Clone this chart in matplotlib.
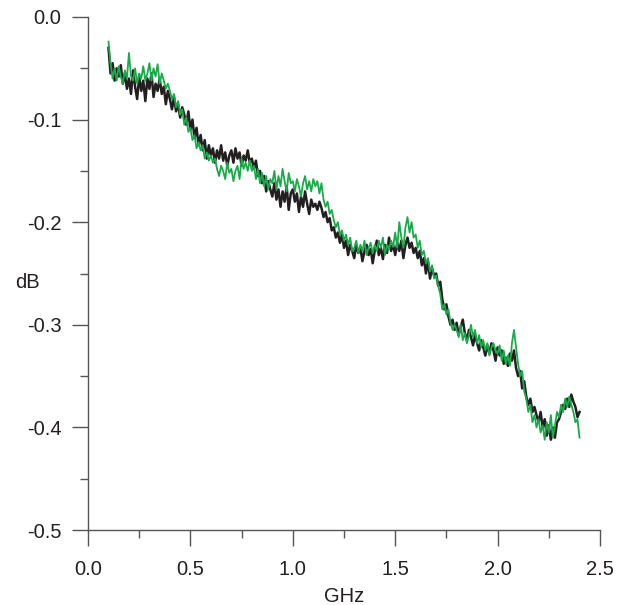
import numpy as np
import matplotlib
matplotlib.use("Agg")
import matplotlib.pyplot as plt
from matplotlib.ticker import MultipleLocator

plt.rcParams['font.family'] = ['Liberation Sans', 'DejaVu Sans']

# frequency grid (GHz)
freq = np.round(np.arange(0.10, 2.4001, 0.01), 2)

black_db = [
    -0.030, -0.055, -0.045, -0.062, -0.050, -0.058, -0.047, -0.065, -0.055, -0.070,
    -0.060, -0.075, -0.052, -0.068, -0.080, -0.058, -0.072, -0.062, -0.082, -0.060,
    -0.070, -0.055, -0.078, -0.065, -0.072, -0.060, -0.075, -0.068, -0.085, -0.072,
    -0.080, -0.090, -0.078, -0.092, -0.085, -0.098, -0.088, -0.095, -0.105, -0.092,
    -0.110, -0.100, -0.118, -0.108, -0.125, -0.115, -0.130, -0.120, -0.138, -0.125,
    -0.135, -0.128, -0.142, -0.130, -0.138, -0.125, -0.140, -0.132, -0.145, -0.135,
    -0.130, -0.142, -0.128, -0.138, -0.132, -0.145, -0.135, -0.140, -0.130, -0.142,
    -0.138, -0.148, -0.140, -0.155, -0.150, -0.162, -0.155, -0.170, -0.160, -0.168,
    -0.175, -0.162, -0.178, -0.168, -0.185, -0.170, -0.180, -0.165, -0.188, -0.172,
    -0.168, -0.180, -0.172, -0.190, -0.175, -0.185, -0.170, -0.182, -0.192, -0.178,
    -0.185, -0.182, -0.188, -0.180, -0.186, -0.195, -0.190, -0.200, -0.196, -0.208,
    -0.205, -0.215, -0.210, -0.220, -0.212, -0.225, -0.218, -0.232, -0.222, -0.228,
    -0.235, -0.222, -0.230, -0.225, -0.238, -0.228, -0.222, -0.232, -0.226, -0.240,
    -0.228, -0.218, -0.232, -0.225, -0.236, -0.222, -0.230, -0.215, -0.228, -0.222,
    -0.232, -0.220, -0.228, -0.218, -0.235, -0.222, -0.215, -0.225, -0.220, -0.230,
    -0.225, -0.235, -0.228, -0.242, -0.235, -0.250, -0.238, -0.255, -0.245, -0.252,
    -0.250, -0.262, -0.258, -0.275, -0.285, -0.280, -0.292, -0.300, -0.295, -0.305,
    -0.298, -0.310, -0.302, -0.295, -0.308, -0.315, -0.305, -0.312, -0.320, -0.310,
    -0.318, -0.325, -0.315, -0.322, -0.330, -0.320, -0.328, -0.318, -0.325, -0.335,
    -0.322, -0.330, -0.325, -0.338, -0.332, -0.340, -0.328, -0.335, -0.325, -0.342,
    -0.350, -0.345, -0.362, -0.355, -0.370, -0.378, -0.372, -0.385, -0.380, -0.388,
    -0.395, -0.385, -0.400, -0.392, -0.408, -0.398, -0.412, -0.400, -0.410, -0.395,
    -0.392, -0.385, -0.378, -0.382, -0.372, -0.380, -0.368, -0.375, -0.380, -0.390, -0.385,
]

green_db = [
    -0.024, -0.045, -0.060, -0.050, -0.062, -0.048, -0.058, -0.065, -0.052, -0.060,
    -0.035, -0.058, -0.062, -0.050, -0.065, -0.055, -0.060, -0.048, -0.062, -0.055,
    -0.045, -0.062, -0.050, -0.058, -0.046, -0.065, -0.055, -0.062, -0.070, -0.065,
    -0.072, -0.080, -0.075, -0.088, -0.082, -0.095, -0.090, -0.105, -0.098, -0.112,
    -0.108, -0.120, -0.115, -0.128, -0.122, -0.130, -0.125, -0.138, -0.132, -0.140,
    -0.135, -0.142, -0.138, -0.148, -0.155, -0.145, -0.150, -0.158, -0.142, -0.152,
    -0.148, -0.160, -0.150, -0.145, -0.158, -0.138, -0.148, -0.142, -0.150, -0.140,
    -0.150, -0.145, -0.158, -0.148, -0.162, -0.152, -0.165, -0.155, -0.168, -0.158,
    -0.162, -0.150, -0.168, -0.155, -0.165, -0.148, -0.160, -0.170, -0.152, -0.162,
    -0.160, -0.170, -0.158, -0.165, -0.175, -0.162, -0.155, -0.168, -0.160, -0.170,
    -0.158, -0.165, -0.160, -0.172, -0.162, -0.178, -0.185, -0.180, -0.192, -0.188,
    -0.198, -0.205, -0.200, -0.212, -0.208, -0.218, -0.212, -0.222, -0.215, -0.228,
    -0.225, -0.218, -0.230, -0.222, -0.228, -0.218, -0.232, -0.225, -0.220, -0.230,
    -0.222, -0.228, -0.218, -0.225, -0.215, -0.232, -0.222, -0.226, -0.218, -0.224,
    -0.210, -0.225, -0.200, -0.215, -0.225, -0.205, -0.195, -0.210, -0.200, -0.215,
    -0.212, -0.225, -0.218, -0.232, -0.228, -0.240, -0.235, -0.248, -0.242, -0.255,
    -0.252, -0.262, -0.270, -0.285, -0.280, -0.290, -0.285, -0.298, -0.305, -0.300,
    -0.305, -0.312, -0.300, -0.315, -0.308, -0.318, -0.310, -0.300, -0.312, -0.305,
    -0.318, -0.310, -0.322, -0.315, -0.325, -0.318, -0.330, -0.322, -0.318, -0.325,
    -0.328, -0.320, -0.335, -0.325, -0.338, -0.330, -0.340, -0.318, -0.305, -0.322,
    -0.338, -0.350, -0.345, -0.365, -0.372, -0.385, -0.378, -0.395, -0.388, -0.400,
    -0.392, -0.405, -0.398, -0.412, -0.395, -0.405, -0.388, -0.410, -0.398, -0.385,
    -0.390, -0.378, -0.385, -0.372, -0.380, -0.370, -0.378, -0.385, -0.395, -0.392, -0.410,
]

x_ticks = [0.0, 0.5, 1.0, 1.5, 2.0, 2.5]
x_ticklabels = ["0.0", "0.5", "1.0", "1.5", "2.0", "2.5"]
y_ticks = [0.0, -0.1, -0.2, -0.3, -0.4, -0.5]
y_ticklabels = ["0.0", "-0.1", "-0.2", "-0.3", "-0.4", "-0.5"]

fig = plt.figure(figsize=(6.18, 6.05), dpi=100)
ax = fig.add_axes([88 / 618, 75 / 605, 512 / 618, 513 / 605])

ax.plot(freq, black_db, color="#231f20", lw=1.8, zorder=2)
ax.plot(freq, green_db, color="#1aaa4a", lw=1.3, zorder=3)

ax.set_xlim(0, 2.5)
ax.set_ylim(-0.5, 0.0)
ax.set_xticks(x_ticks)
ax.set_xticklabels(x_ticklabels)
ax.set_yticks(y_ticks)
ax.set_yticklabels(y_ticklabels)
ax.xaxis.set_minor_locator(MultipleLocator(0.25))
ax.yaxis.set_minor_locator(MultipleLocator(0.05))

for s in ["top", "right"]:
    ax.spines[s].set_visible(False)
for s in ["left", "bottom"]:
    ax.spines[s].set_color("#555555")
    ax.spines[s].set_linewidth(1.0)

ax.tick_params(which="major", direction="out", length=11.5, width=1.0,
               color="#555555", labelsize=14.5, labelcolor="#231f20", pad=7.5)
ax.tick_params(which="minor", direction="out", length=5.5, width=1.0,
               color="#555555")
ax.tick_params(axis="x", which="major", pad=10)

ax.set_xlabel("GHz", fontsize=14.5, color="#231f20", labelpad=6)
ax.set_ylabel("dB", fontsize=14.5, color="#231f20", rotation=0,
              ha="center", va="center")
ax.yaxis.set_label_coords((27 - 88) / 512, (605 - 282 - 75) / 513)

fig.savefig("out.png", dpi=100)
